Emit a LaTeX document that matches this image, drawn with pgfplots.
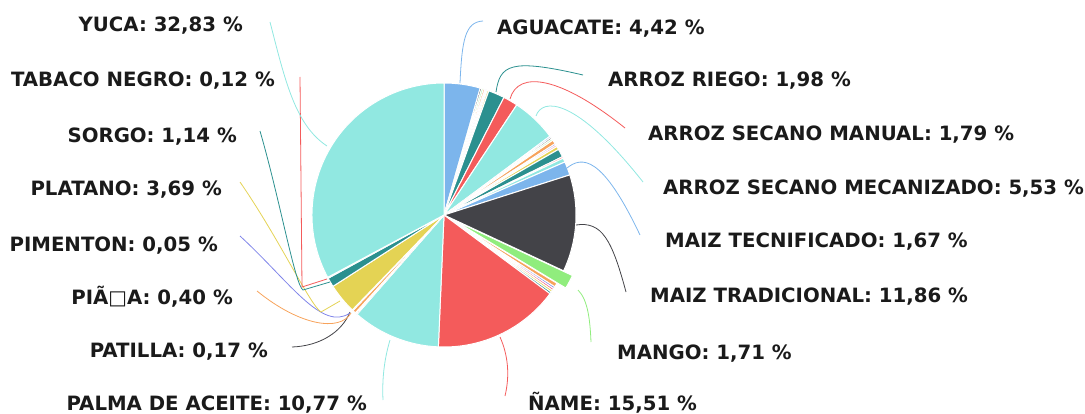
\documentclass[border=0pt]{standalone}
\usepackage{pgfplots}
\pgfplotsset{compat=1.18}
\usepackage{pgfplotstable}
\usepackage{fontspec}
\setmainfont{DejaVu Sans}

% Highcharts default palette
\definecolor{hb}{HTML}{7CB5EC}
\definecolor{hk}{HTML}{434348}
\definecolor{hg}{HTML}{90ED7D}
\definecolor{ho}{HTML}{F7A35C}
\definecolor{hp}{HTML}{8085E9}
\definecolor{hr}{HTML}{F15C80}
\definecolor{hy}{HTML}{E4D354}
\definecolor{ht}{HTML}{2B908F}
\definecolor{hR}{HTML}{F45B5B}
\definecolor{hc}{HTML}{91E8E1}
\definecolor{lbltext}{HTML}{1A1A1A}

% share (%), colour, offset of the slice (bp); clockwise from 12 o'clock
\pgfplotstableread[col sep=comma]{
val,col,off
4.42,hb,0
0.20,hk,0
0.20,hg,0
0.20,ho,0
0.15,hp,0
0.15,hr,0
0.20,hy,0
1.98,ht,0
1.79,hR,0
5.53,hc,0
0.20,hb,0
0.20,hk,0
0.20,hg,0
0.50,ho,0
0.20,hp,0
0.20,hr,0
0.40,hy,0
1.00,ht,0
0.20,hR,0
0.50,hc,0
1.67,hb,0
11.86,hk,0
1.71,hg,10
0.50,ho,0
0.25,hp,0
0.25,hr,0
0.26,hy,0
0.25,ht,0
15.51,hR,0
10.77,hc,0
0.05,hb,0
0.17,hk,0
0.05,hg,0
0.40,ho,0
0.05,hp,0
0.05,hr,0
3.69,hy,0
1.14,ht,0
0.12,hR,0
32.83,hc,0
}\piedata

\newcommand\lbl{\fontsize{19.8}{20}\selectfont\bfseries\color{lbltext}}

\begin{document}
\begin{tikzpicture}
\pgfplotstablegetrowsof{\piedata}
\pgfmathtruncatemacro\nlast{\pgfplotsretval-1}
\def\acc{90}
\pgfplotsforeachungrouped \i in {0,...,\nlast}{%
  \pgfplotstablegetelem{\i}{val}\of\piedata
  \pgfmathsetmacro\enda{\acc-3.6*\pgfplotsretval}
  \pgfmathsetmacro\mida{(\acc+\enda)/2}
  \expandafter\xdef\csname sa\i\endcsname{\acc}
  \expandafter\xdef\csname ea\i\endcsname{\enda}
  \expandafter\xdef\csname ma\i\endcsname{\mida}
  \pgfplotstablegetelem{\i}{col}\of\piedata
  \expandafter\xdef\csname sc\i\endcsname{\pgfplotsretval}
  \pgfplotstablegetelem{\i}{off}\of\piedata
  \expandafter\xdef\csname so\i\endcsname{\pgfplotsretval}
  \xdef\acc{\enda}%
}
\begin{axis}[
    scale only axis, width=1085bp, height=414bp,
    xmin=0, xmax=1085, ymin=0, ymax=414, y dir=reverse,
    hide axis, clip=false,
]
% slices
\pgfplotsinvokeforeach{0,...,39}{%
  \edef\tmp{\noexpand\fill[fill=\csname sc#1\endcsname, draw=white, line width=1bp, line join=round,
      shift={(canvas polar cs:angle=\csname ma#1\endcsname,radius=\csname so#1\endcsname bp)}]
    (axis cs:444,215) -- ++(canvas polar cs:angle=\csname sa#1\endcsname,radius=132bp)
    arc[start angle=\csname sa#1\endcsname, end angle=\csname ea#1\endcsname, radius=132bp] -- cycle;}%
  \tmp
}

% connectors
\begin{scope}[line width=0.8bp]
\draw[hb] (axis cs:460,83) .. controls (axis cs:462,40) and (axis cs:465,22) .. (axis cs:483,21);
\draw[ht] (axis cs:496,92) .. controls (axis cs:500,65) and (axis cs:510,58) .. (axis cs:583,75);
\draw[hR] (axis cs:510,99) .. controls (axis cs:518,70) and (axis cs:560,76) .. (axis cs:625,128);
\draw[hc] (axis cs:536,116) .. controls (axis cs:542,98) and (axis cs:575,96) .. (axis cs:643,182);
\draw[hb] (axis cs:567,168) .. controls (axis cs:582,156) and (axis cs:602,155) .. (axis cs:640,235);
\draw[hk] (axis cs:576,225) .. controls (axis cs:602,221) and (axis cs:612,240) .. (axis cs:626,292);
\draw[hg] (axis cs:578,290) .. controls (axis cs:588,300) and (axis cs:590,320) .. (axis cs:591,342);
\draw[hR] (axis cs:500,337) .. controls (axis cs:508,355) and (axis cs:510,375) .. (axis cs:505,396);
\draw[hc] (axis cs:390,340) .. controls (axis cs:384,360) and (axis cs:382,380) .. (axis cs:383,400);
\draw[hk] (axis cs:350,312) .. controls (axis cs:342,332) and (axis cs:320,346) .. (axis cs:292,347);
\draw[ho] (axis cs:351,313) .. controls (axis cs:340,332) and (axis cs:300,326) .. (axis cs:257,291);
\draw[hp] (axis cs:350,313) .. controls (axis cs:322,332) and (axis cs:290,282) .. (axis cs:240,236);
\draw[hy] (axis cs:240,182) .. controls (axis cs:280,240) and (axis cs:310,305) .. (axis cs:321,312) -- (axis cs:340,301);
\draw[ht] (axis cs:260,131) .. controls (axis cs:280,200) and (axis cs:295,285) .. (axis cs:303,290) -- (axis cs:330,282);
\draw[hR] (axis cs:300,77) -- (axis cs:302,287) -- (axis cs:327,279);
\draw[hc] (axis cs:270,22) .. controls (axis cs:285,80) and (axis cs:295,125) .. (axis cs:327,146);
\end{scope}

% labels, left side
\node[anchor=base east, inner sep=0pt, font=\lbl] at (axis cs:243,32) {YUCA: 32,83 \%};
\node[anchor=base east, inner sep=0pt, font=\lbl] at (axis cs:275,87) {TABACO NEGRO: 0,12 \%};
\node[anchor=base east, inner sep=0pt, font=\lbl] at (axis cs:237,142) {SORGO: 1,14 \%};
\node[anchor=base east, inner sep=0pt, font=\lbl] at (axis cs:222,195) {PLATANO: 3,69 \%};
\node[anchor=base east, inner sep=0pt, font=\lbl] at (axis cs:218,251) {PIMENTON: 0,05 \%};
\node[anchor=base east, inner sep=0pt, font=\lbl] at (axis cs:233,304) {PIÃ{\mdseries □}A: 0,40 \%};
\node[anchor=base east, inner sep=0pt, font=\lbl] at (axis cs:268,357) {PATILLA: 0,17 \%};
\node[anchor=base east, inner sep=0pt, font=\lbl] at (axis cs:367,410) {PALMA DE ACEITE: 10,77 \%};
% labels, right side
\node[anchor=base west, inner sep=0pt, font=\lbl] at (axis cs:497,35) {AGUACATE: 4,42 \%};
\node[anchor=base west, inner sep=0pt, font=\lbl] at (axis cs:608,87) {ARROZ RIEGO: 1,98 \%};
\node[anchor=base west, inner sep=0pt, font=\lbl] at (axis cs:648,140) {ARROZ SECANO MANUAL: 1,79 \%};
\node[anchor=base west, inner sep=0pt, font=\lbl] at (axis cs:663,194) {ARROZ SECANO MECANIZADO: 5,53 \%};
\node[anchor=base west, inner sep=0pt, font=\lbl] at (axis cs:665,247) {MAIZ TECNIFICADO: 1,67 \%};
\node[anchor=base west, inner sep=0pt, font=\lbl] at (axis cs:650,302) {MAIZ TRADICIONAL: 11,86 \%};
\node[anchor=base west, inner sep=0pt, font=\lbl] at (axis cs:617,359) {MANGO: 1,71 \%};
\node[anchor=base west, inner sep=0pt, font=\lbl] at (axis cs:528,410) {ÑAME: 15,51 \%};
\end{axis}
\pgfresetboundingbox
\useasboundingbox (current axis.south west) rectangle (current axis.north east);
\end{tikzpicture}
\end{document}
